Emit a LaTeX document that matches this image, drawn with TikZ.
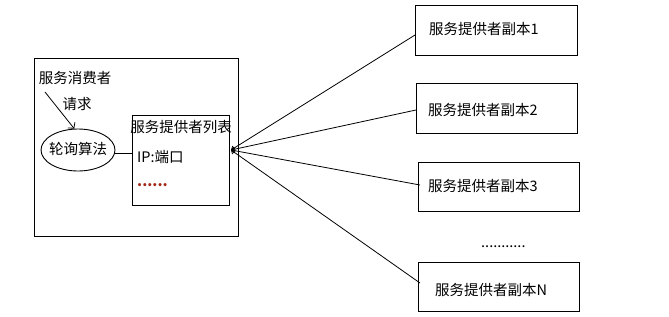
\documentclass[tikz,border=0pt]{standalone}
\usepackage{fontspec}
\newfontfamily\cjk{Noto Sans CJK SC}
\usetikzlibrary{arrows.meta,shapes.geometric}
\definecolor{dotred}{RGB}{160,40,20}
\begin{document}
\begin{tikzpicture}[x=1pt,y=-1pt,
  box/.style={draw,line width=1pt,inner sep=0pt,anchor=north west},
  txt/.style={inner sep=0pt,font=\cjk\fontsize{14.5}{16}\selectfont},
  conn/.style={line width=0.8pt}]
\useasboundingbox (0,0) rectangle (669,316);
% consumer box
\node[box,minimum width=204pt,minimum height=178pt] (outer) at (34,58) {};
\node[txt] (cons) at (75,78) {服务消费者};
\node[txt] (req) at (77,104) {请求};
\node[draw,ellipse,line width=0.9pt,minimum width=74pt,minimum height=42pt,inner sep=0pt] (ell) at (78,150) {};
\node[txt] (rr) at (78,149) {轮询算法};
\coordinate (cstart) at (45,92);
\draw[conn,-{Straight Barb[length=4pt,width=9pt]}] (cstart) -- (ell.100);
% provider list
\node[box,minimum width=97pt,minimum height=90pt] (list) at (132,115) {};
\node[txt] (listt) at (181,127) {服务提供者列表};
\node[txt,anchor=west] (ip) at (137,157) {IP:端口};
\node[txt,anchor=west,text=dotred,font=\cjk\bfseries\fontsize{14.5}{16}\selectfont] (ldots) at (137,185) {......};
\draw[conn] (ell.east |- 0,153) -- (list.west |- 0,153);
\coordinate (hub) at (231,150);
% replicas
\node[box,minimum width=162pt,minimum height=50pt] (r1) at (415,5) {};
\node[txt,anchor=west] (t1) at (429,29) {服务提供者副本1};
\node[box,minimum width=161pt,minimum height=50pt] (r2) at (416,83) {};
\node[txt,anchor=west] (t2) at (428,110) {服务提供者副本2};
\node[box,minimum width=161pt,minimum height=49pt] (r3) at (418,162) {};
\node[txt,anchor=west] (t3) at (428,186) {服务提供者副本3};
\node[box,minimum width=161pt,minimum height=49pt] (rN) at (418,262) {};
\node[txt,anchor=west] (tN) at (435,290) {服务提供者副本N};
\node[txt,anchor=west] (rdots) at (481,247) {...........};
% connectors
\draw[conn,{Straight Barb[length=3pt,width=5pt]}-] (hub) -- (r1.west |- 0,35);
\draw[conn,{Straight Barb[length=3pt,width=5pt]}-] (hub) -- (r2.west |- 0,110);
\draw[conn,{Straight Barb[length=3pt,width=5pt]}-] (hub) -- ([xshift=2pt]r3.west |- 0,185);
\draw[conn,{Straight Barb[length=3pt,width=5pt]}-] (hub) -- ([xshift=2pt]rN.west |- 0,283);
\end{tikzpicture}
\end{document}
